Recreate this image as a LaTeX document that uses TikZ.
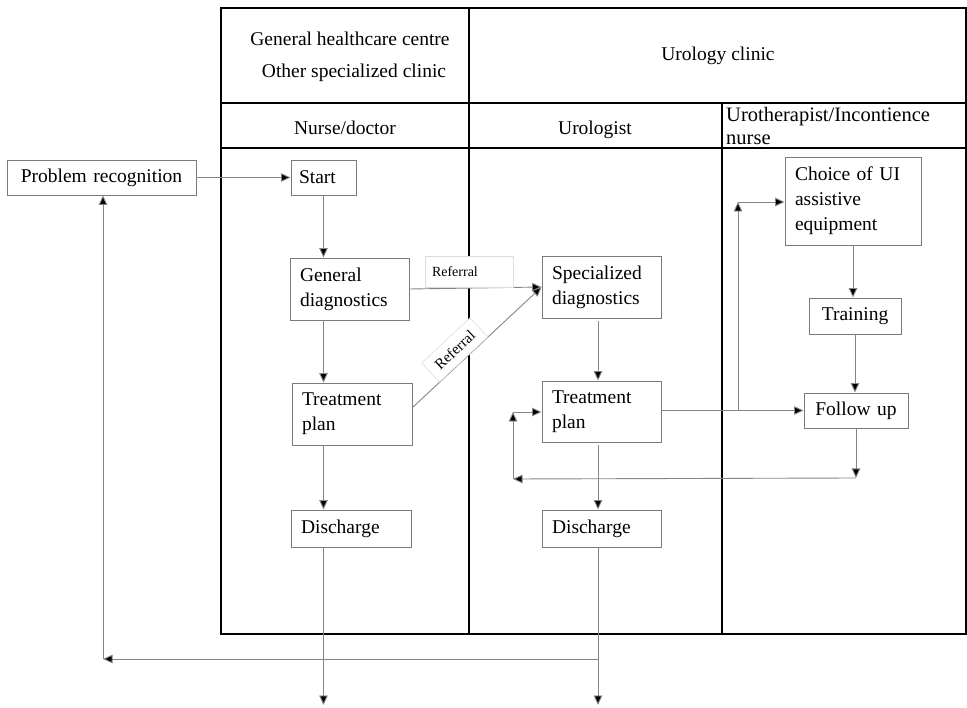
\documentclass[tikz,border=0pt]{standalone}
\usepackage{fontspec}
\setmainfont{Liberation Serif}
\usetikzlibrary{arrows.meta}
\definecolor{boxgray}{HTML}{7A7A7A}
\definecolor{linegray}{HTML}{858585}
\definecolor{labelgray}{HTML}{DDDDDD}
\begin{document}
\begin{tikzpicture}[x=1pt,y=-1pt,
  every node/.style={font=\fontsize{19.5}{25}\selectfont},
  stepbox/.style={draw=boxgray, line width=0.9pt, fill=white, inner ysep=0pt, inner xsep=10pt, align=left},
  flow/.style={draw=linegray, line width=0.9pt, -{Triangle[length=9.5pt,width=8.5pt,fill=black]}},
  lane/.style={draw=black, line width=1.5pt},
  reflabel/.style={draw=labelgray, line width=0.6pt, fill=white, inner sep=0pt,
    font=\fontsize{14}{16}\selectfont}
]
\useasboundingbox (0,0) rectangle (967,708);

% swimlane table
\draw[lane] (221,8) rectangle (966,634);
\draw[lane] (469,8) -- (469,634);
\draw[lane] (221,103) -- (966,103);
\draw[lane] (221,148) -- (966,148);
\draw[lane] (722,103) -- (722,634);

% lane headings
\node[align=center, font=\fontsize{19.5}{32}\selectfont] (hdrgen) at (350,57) {General healthcare centre\\ \hspace*{8pt}Other specialized clinic};
\node (hdruro) at (718,56) {Urology clinic};
\node (rolenurse) at (345,128) {Nurse/doctor};
\node (roleuro) at (595,130) {Urologist};
\node[anchor=west, align=left, inner sep=0pt, font=\fontsize{20.5}{23}\selectfont] (rolether) at (726,126) {Urotherapist/Incontience\\nurse};

% process steps
\node[stepbox, align=center, text width=169pt, minimum height=35pt] (prob) at (101.5,177.5) {Problem recognition};
\node[stepbox, inner xsep=8pt, text width=49pt, minimum height=35pt] (start) at (323.5,177.5) {Start};
\node[stepbox, text width=99pt, minimum height=62pt] (gendiag) at (349.5,289) {General\\diagnostics};
\node[stepbox, text width=100pt, minimum height=62pt] (tpl) at (352,414) {Treatment\\plan};
\node[stepbox, text width=100pt, minimum height=37pt] (disl) at (351,528.5) {Discharge};
\node[stepbox, text width=99pt, minimum height=62pt] (specd) at (601.5,287) {Specialized\\diagnostics};
\node[stepbox, text width=99pt, minimum height=61pt] (tpm) at (601.5,411.5) {Treatment\\plan};
\node[stepbox, text width=99pt, minimum height=37pt] (dism) at (601.5,528.5) {Discharge};
\node[stepbox, text width=116pt, minimum height=88pt] (choice) at (853,201) {Choice of UI\\assistive\\equipment};
\node[stepbox, align=center, text width=72pt, minimum height=36pt] (train) at (855,316) {Training};
\node[stepbox, align=center, text width=84pt, minimum height=35pt] (follow) at (856,410.5) {Follow up};

% connector waypoints
\coordinate (outl) at (323.5,705);
\coordinate (outm) at (598,705);
\coordinate (back) at (598,659);
\coordinate (lb) at (103,659);
\coordinate (r2s) at (412,408);
\coordinate (br1) at (738,410.5);
\coordinate (br2) at (738,202);
\coordinate (fbr) at (856,478);
\coordinate (fbl) at (513,479);
\coordinate (fbt) at (513,412);

% nurse/doctor lane
\draw[flow] (prob) -- (start);
\draw[flow] (start.south) -- (start.south |- gendiag.north);
\draw[flow] (start.south |- gendiag.south) -- (start.south |- tpl.north);
\draw[flow] (start.south |- tpl.south) -- (start.south |- disl.north);
\draw[flow] (start.south |- disl.south) -- (outl);

% referrals to the urology clinic
\draw[flow] (gendiag.east) -- (specd.west);
\node[reflabel, align=left, inner xsep=7pt, text width=74pt, minimum height=31pt] (ref1) at (469,271.5) {Referral};
\draw[flow] (r2s) -- (specd.west)
  node[reflabel, pos=0.4, sloped, above, minimum width=66pt, minimum height=26pt,
       font=\fontsize{15}{17}\selectfont] (ref2) {Referral};

% urologist lane
\draw[flow, shorten <=3pt] (outm |- specd.south) -- (outm |- tpm.north);
\draw[flow, shorten <=3pt] (outm |- tpm.south) -- (outm |- dism.north);
\draw[flow] (outm |- dism.south) -- (outm);
\draw[flow] (back) -- (lb);
\draw[flow] (lb) -- (lb |- prob.south);

% urotherapist lane
\draw[flow] (tpm.east |- follow.west) -- (follow.west);
\draw[flow] (br1) -- (br2);
\draw[flow] (br2) -- (choice.west |- br2);
\draw[flow] (choice.south) -- (choice.south |- train.north);
\draw[flow] (train.south) -- (train.south |- follow.north);

% follow-up loop back to the treatment plan
\draw[flow] (follow.south) -- (fbr);
\draw[flow] (fbr) -- (fbl);
\draw[flow] (fbl) -- (fbt);
\draw[flow] (fbt) -- (tpm.west |- fbt);
\end{tikzpicture}
\end{document}
